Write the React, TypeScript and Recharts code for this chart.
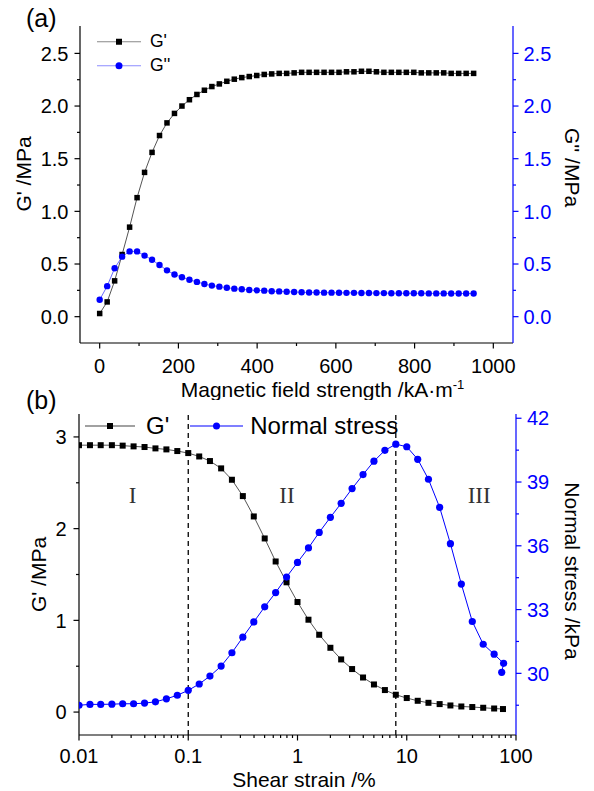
import React from "react";
import {
  ComposedChart,
  Line,
  XAxis,
  YAxis,
  Label,
  Legend,
  ReferenceLine,
  ReferenceDot,
} from "recharts";

// ------------------------------------------------------------------
// Two stacked panels: (a) moduli vs magnetic field, (b) strain sweep
// ------------------------------------------------------------------

const BLUE = "#0000ff";
const FONT = "Arial, 'Liberation Sans', Helvetica, sans-serif";
const SERIF = "'Times New Roman', 'Liberation Serif', serif";
const TICK_FS = 20;
const TITLE_FS = 21;

// ── (a) magnetic field sweep ──────────────────────────────────────
const field = [
  0, 19, 38, 57, 76, 95, 114, 133, 152, 171, 190, 209, 228, 247, 266, 285, 304,
  323, 342, 361, 380, 399, 418, 437, 456, 475, 494, 513, 532, 551, 570, 589, 608,
  627, 646, 665, 684, 703, 722, 741, 760, 779, 798, 817, 836, 855, 874, 893, 912,
  931, 950,
];
const storageA = [
  0.03, 0.14, 0.34, 0.59, 0.85, 1.13, 1.37, 1.56, 1.72, 1.84, 1.93, 2.0, 2.06,
  2.11, 2.15, 2.185, 2.21, 2.235, 2.255, 2.27, 2.28, 2.29, 2.3, 2.305, 2.31, 2.31,
  2.315, 2.32, 2.32, 2.32, 2.32, 2.32, 2.32, 2.325, 2.325, 2.33, 2.33, 2.325,
  2.32, 2.32, 2.32, 2.32, 2.32, 2.315, 2.315, 2.315, 2.315, 2.31, 2.31, 2.31, 2.31,
];
const lossA = [
  0.16, 0.29, 0.46, 0.57, 0.62, 0.62, 0.58, 0.54, 0.49, 0.44, 0.4, 0.375, 0.35,
  0.33, 0.31, 0.295, 0.285, 0.275, 0.266, 0.26, 0.253, 0.25, 0.247, 0.242, 0.24,
  0.237, 0.234, 0.232, 0.23, 0.23, 0.228, 0.228, 0.227, 0.226, 0.226, 0.225,
  0.225, 0.224, 0.224, 0.223, 0.223, 0.222, 0.222, 0.222, 0.221, 0.221, 0.221,
  0.22, 0.22, 0.22, 0.22,
];
const fieldTicks = [0, 100, 200, 300, 400, 500, 600, 700, 800, 900, 1000];
const fieldMajor = [0, 200, 400, 600, 800, 1000];
const modTicksA = [0, 0.25, 0.5, 0.75, 1, 1.25, 1.5, 1.75, 2, 2.25, 2.5];
const modMajorA = [0, 0.5, 1, 1.5, 2, 2.5];

// ── (b) strain sweep ──────────────────────────────────────────────
const strain = [
  0.01, 0.0126, 0.0158, 0.02, 0.0251, 0.0316, 0.0398, 0.0501, 0.0631, 0.0794,
  0.1, 0.126, 0.158, 0.2, 0.251, 0.316, 0.398, 0.501, 0.631, 0.794, 1, 1.26, 1.58,
  2, 2.51, 3.16, 3.98, 5.01, 6.31, 7.94, 10, 12.6, 15.8, 20, 25.1, 31.6, 39.8,
  50.1, 63.1, 76,
];
const storageB = [
  2.91, 2.91, 2.91, 2.91, 2.905, 2.897, 2.89, 2.875, 2.864, 2.846, 2.824, 2.787,
  2.737, 2.657, 2.533, 2.355, 2.133, 1.893, 1.642, 1.415, 1.2, 1.007, 0.843,
  0.701, 0.574, 0.469, 0.377, 0.301, 0.24, 0.189, 0.153, 0.123, 0.101, 0.087,
  0.072, 0.061, 0.055, 0.047, 0.039, 0.033,
];
const strainN = [
  0.01, 0.0126, 0.0158, 0.02, 0.0251, 0.0316, 0.0398, 0.0501, 0.0631, 0.0794,
  0.1, 0.126, 0.158, 0.2, 0.251, 0.316, 0.398, 0.501, 0.631, 0.794, 1, 1.26, 1.58,
  2, 2.51, 3.16, 3.98, 5.01, 6.31, 7.94, 10, 12.6, 15.8, 20, 25.1, 31.6, 39.8,
  50.1, 63.1, 77, 74,
];
const normalStress = [
  28.5, 28.54, 28.54, 28.55, 28.57, 28.57, 28.6, 28.66, 28.8, 28.97, 29.2, 29.5,
  29.87, 30.34, 30.97, 31.7, 32.42, 33.13, 33.8, 34.53, 35.22, 35.9, 36.63,
  37.34, 38.0, 38.69, 39.35, 39.98, 40.49, 40.78, 40.66, 40.07, 39.13, 37.81,
  36.1, 34.2, 32.44, 31.37, 30.9, 30.47, 30.05,
];
const strainTicks = [
  0.01, 0.02, 0.03, 0.04, 0.05, 0.06, 0.07, 0.08, 0.09, 0.1, 0.2, 0.3, 0.4, 0.5,
  0.6, 0.7, 0.8, 0.9, 1, 2, 3, 4, 5, 6, 7, 8, 9, 10, 20, 30, 40, 50, 60, 70, 80,
  90, 100,
];
const strainMajor = [0.01, 0.1, 1, 10, 100];
const modTicksB = [0, 0.5, 1, 1.5, 2, 2.5, 3];
const modMajorB = [0, 1, 2, 3];
const stressTicks = [28.5, 30, 31.5, 33, 34.5, 36, 37.5, 39, 40.5, 42];
const stressMajor = [30, 33, 36, 39, 42];
const regionMarks = [
  { x: 0.031, y: 2.37, text: "I" },
  { x: 0.8, y: 2.37, text: "II" },
  { x: 46, y: 2.37, text: "III" },
];
const boundaries = [0.1, 7.94];

const rowsA = field.map((x, i) => ({ x, gp: storageA[i], gpp: lossA[i] }));
const rowsG = strain.map((x, i) => ({ x, g: storageB[i] }));
const rowsN = strainN.map((x, i) => ({ x, n: normalStress[i] }));

// ── tick / label helpers ──────────────────────────────────────────

function makeTick(
  side: "left" | "right" | "bottom",
  majors: number[],
  color: string,
  fmt: (v: number) => string,
  gap: number
) {
  return (props: any) => {
    const { x, y, payload } = props;
    const v = payload.value;
    const major = majors.indexOf(v) >= 0;
    const len = major ? 5.5 : 3;
    if (side === "bottom") {
      return (
        <g>
          <line x1={x} y1={y} x2={x} y2={y + len} stroke={color} strokeWidth={1.2} />
          {major && (
            <text x={x} y={y + gap} textAnchor="middle" fill={color}
              fontSize={TICK_FS} fontFamily={FONT}>
              {fmt(v)}
            </text>
          )}
        </g>
      );
    }
    const dir = side === "left" ? -1 : 1;
    return (
      <g>
        <line x1={x} y1={y} x2={x + dir * len} y2={y} stroke={color} strokeWidth={1.2} />
        {major && (
          <text x={x + dir * gap} y={y} dy="0.36em"
            textAnchor={side === "left" ? "end" : "start"} fill={color}
            fontSize={TICK_FS} fontFamily={FONT}>
            {fmt(v)}
          </text>
        )}
      </g>
    );
  };
}

function xTitle(content: React.ReactNode, dx: number, dy: number) {
  return (p: any) => {
    const vb = p.viewBox;
    return (
      <text x={vb.x + vb.width / 2 + dx} y={vb.y + dy} textAnchor="middle"
        fontSize={TITLE_FS} fontFamily={FONT} fill="#000">
        {content}
      </text>
    );
  };
}

function yTitle(text: string, cxFromLeft: number, dy: number, angle: number) {
  return (p: any) => {
    const vb = p.viewBox;
    const cx = vb.x + cxFromLeft;
    const cy = vb.y + vb.height / 2 + dy;
    return (
      <text x={cx} y={cy} transform={`rotate(${angle} ${cx} ${cy})`}
        textAnchor="middle" dominantBaseline="central"
        fontSize={TITLE_FS} fontFamily={FONT} fill="#000">
        {text}
      </text>
    );
  };
}

const squareDot = (size: number) => (p: any) => (
  <rect key={`s${p.index}`} x={p.cx - size / 2} y={p.cy - size / 2}
    width={size} height={size} fill="#000" />
);
const circleDot = (r: number) => (p: any) => (
  <circle key={`c${p.index}`} cx={p.cx} cy={p.cy} r={r} fill={BLUE} />
);

function LegendItem({ line, marker, label, width, fontSize, textGap }: any) {
  return (
    <div style={{ display: "flex", alignItems: "center" }}>
      <svg width={width} height={fontSize + 6}>
        <line x1={0} x2={width} y1={(fontSize + 6) / 2} y2={(fontSize + 6) / 2}
          stroke={line} strokeWidth={1.2} />
        {marker === "square" ? (
          <rect x={width / 2 - 3} y={(fontSize + 6) / 2 - 3} width={6} height={6} fill="#000" />
        ) : (
          <circle cx={width / 2} cy={(fontSize + 6) / 2} r={3.5} fill={BLUE} />
        )}
      </svg>
      <span style={{ marginLeft: textGap, fontSize, fontFamily: FONT, color: "#000", lineHeight: 1 }}>
        {label}
      </span>
    </div>
  );
}

const AX = { stroke: "#000", strokeWidth: 1.2 };
const AXB = { stroke: BLUE, strokeWidth: 1.2 };

// ── panel (a) ─────────────────────────────────────────────────────

function PanelA() {
  return (
    <ComposedChart width={594} height={400} data={rowsA}
      margin={{ top: 26, right: 0, bottom: 0, left: 0 }}>
      <XAxis xAxisId="b" dataKey="x" type="number" domain={[-50, 1050]}
        ticks={fieldTicks} interval={0} tickSize={0} tickMargin={0}
        tick={makeTick("bottom", fieldMajor, "#000", (v) => String(v), 29.5)}
        axisLine={AX} height={57}>
        <Label content={xTitle(
          <>Magnetic field strength /kA·m<tspan dy={-8} fontSize={13}>-1</tspan></>,
          26, 53.5)} />
      </XAxis>
      <XAxis xAxisId="t" orientation="top" type="number" domain={[-50, 1050]}
        tick={false} tickLine={false} axisLine={AX} height={0} />
      <YAxis yAxisId="l" type="number" domain={[-0.25, 2.76]} ticks={modTicksA}
        interval={0} tickSize={0} tickMargin={0} allowDataOverflow
        tick={makeTick("left", modMajorA, "#000", (v) => v.toFixed(1), 11.5)}
        axisLine={AX} width={80}>
        <Label content={yTitle("G' /MPa", 23, -10.5, -90)} />
      </YAxis>
      <YAxis yAxisId="r" orientation="right" type="number" domain={[-0.25, 2.76]}
        ticks={modTicksA} interval={0} tickSize={0} tickMargin={0} allowDataOverflow
        tick={makeTick("right", modMajorA, BLUE, (v) => v.toFixed(1), 10.5)}
        axisLine={AXB} width={81}>
        <Label content={yTitle("G'' /MPa", 59, -17, 90)} />
      </YAxis>
      <Line xAxisId="b" yAxisId="l" dataKey="gp" type="linear" stroke="#555"
        strokeWidth={1} dot={squareDot(5.5)} activeDot={false}
        isAnimationActive={false} />
      <Line xAxisId="b" yAxisId="r" dataKey="gpp" type="linear" stroke="#6a6aff"
        strokeWidth={1} dot={circleDot(3.2)} activeDot={false}
        isAnimationActive={false} />
      <Legend layout="horizontal" verticalAlign="middle" align="center"
        wrapperStyle={{ left: 97, top: 30, width: 120 }}
        content={() => (
          <div>
            <LegendItem line="#888" marker="square" label="G'" width={44} fontSize={17.5} textGap={9} />
            <LegendItem line="#8c8cff" marker="circle" label="G''" width={44} fontSize={17.5} textGap={9} />
          </div>
        )} />
    </ComposedChart>
  );
}

// ── panel (b) ─────────────────────────────────────────────────────

function PanelB() {
  return (
    <ComposedChart width={594} height={391}
      margin={{ top: 14, right: 0, bottom: 0, left: 0 }}>
      <XAxis xAxisId="b" dataKey="x" type="number" scale="log" domain={[0.01, 100]}
        allowDataOverflow ticks={strainTicks} interval={0} tickSize={0} tickMargin={0}
        tick={makeTick("bottom", strainMajor, "#000", (v) => String(v), 28)}
        axisLine={AX} height={56}>
        <Label content={xTitle("Shear strain /%", 6.5, 51.5)} />
      </XAxis>
      <XAxis xAxisId="t" orientation="top" type="number" scale="log" domain={[0.01, 100]}
        allowDataOverflow tick={false} tickLine={false} axisLine={AX} height={0} />
      <YAxis yAxisId="l" type="number" domain={[-0.25, 3.25]} ticks={modTicksB}
        interval={0} tickSize={0} tickMargin={0} allowDataOverflow
        tick={makeTick("left", modMajorB, "#000", (v) => String(v), 12.5)}
        axisLine={AX} width={79}>
        <Label content={yTitle("G' /MPa", 38.5, 0, -90)} />
      </YAxis>
      <YAxis yAxisId="r" orientation="right" type="number" domain={[27.1, 42.2]}
        ticks={stressTicks} interval={0} tickSize={0} tickMargin={0} allowDataOverflow
        tick={makeTick("right", stressMajor, BLUE, (v) => String(v), 11)}
        axisLine={AXB} width={78}>
        <Label content={yTitle("Normal stress /kPa", 56, -3.5, 90)} />
      </YAxis>
      {boundaries.map((b) => (
        <ReferenceLine key={b} xAxisId="b" yAxisId="l" x={b} stroke="#000"
          strokeWidth={1.3} strokeDasharray="5 4" />
      ))}
      {regionMarks.map((m) => (
        <ReferenceDot key={m.text} xAxisId="b" yAxisId="l" x={m.x} y={m.y} r={0}
          fill="none" stroke="none"
          label={{ value: m.text, position: "center", fontFamily: SERIF, fontSize: 23, fill: "#333" }} />
      ))}
      <Line xAxisId="b" yAxisId="l" data={rowsG} dataKey="g" type="linear"
        stroke="#555" strokeWidth={1} dot={squareDot(6)} activeDot={false}
        isAnimationActive={false} />
      <Line xAxisId="b" yAxisId="r" data={rowsN} dataKey="n" type="linear"
        stroke={BLUE} strokeWidth={1} dot={circleDot(3.6)} activeDot={false}
        isAnimationActive={false} />
      <Legend layout="horizontal" verticalAlign="middle" align="center"
        wrapperStyle={{ left: 85, top: 11, width: 330 }}
        content={() => (
          <div style={{ display: "flex", alignItems: "center" }}>
            <LegendItem line="#444" marker="square" label="G'" width={50} fontSize={24} textGap={11} />
            <div style={{ width: 21 }} />
            <LegendItem line={BLUE} marker="circle" label="Normal stress" width={53} fontSize={24} textGap={7} />
          </div>
        )} />
    </ComposedChart>
  );
}

export default function App() {
  return (
    <div style={{ position: "absolute", left: 0, top: 0, width: 594, height: 791,
      background: "#fff", fontFamily: FONT, overflow: "hidden" }}>
      <div style={{ position: "absolute", left: 0, top: 0 }}>
        <PanelA />
      </div>
      <div style={{ position: "absolute", left: 0, top: 400 }}>
        <PanelB />
      </div>
      <div style={{ position: "absolute", left: 26, top: 3, fontSize: 25, lineHeight: "30px" }}>(a)</div>
      <div style={{ position: "absolute", left: 26, top: 385, fontSize: 25, lineHeight: "30px" }}>(b)</div>
    </div>
  );
}
